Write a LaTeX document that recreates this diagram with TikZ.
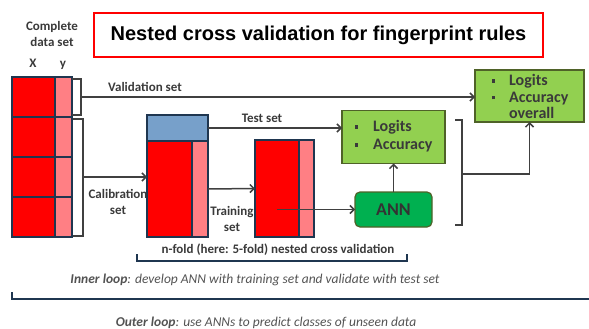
\documentclass[tikz,border=0pt]{standalone}
\usepackage{fontspec}
\setmainfont{Carlito}
\newfontfamily\arialfont{Liberation Sans}
\usetikzlibrary{arrows.meta}

\definecolor{cellred}{HTML}{FF0000}
\definecolor{cellpink}{HTML}{FF7F84}
\definecolor{testblue}{HTML}{77A0CA}
\definecolor{framecol}{HTML}{1F3650}
\definecolor{linegray}{HTML}{404040}
\definecolor{txtgray}{HTML}{3A3A3A}
\definecolor{resgreen}{HTML}{92D050}
\definecolor{anngreen}{HTML}{00B050}
\definecolor{olive}{HTML}{4F6228}

\newcommand\sqbullet{\rule[3pt]{3.5pt}{3.5pt}}

\begin{document}
\begin{tikzpicture}[
   x = 1pt, y = -1pt,
   every node/.style = {inner sep=0pt, outer sep=0pt, text=txtgray,
      font=\bfseries\fontsize{13}{16}\selectfont},
   xcell/.style = {draw=framecol, fill=cellred, line width=1.2pt, anchor=north west},
   ycell/.style = {xcell, fill=cellpink},
   result/.style = {draw=olive, fill=resgreen, line width=1.2pt,
      font=\bfseries\fontsize{16}{18}\selectfont},
   conn/.style = {draw=linegray, line width=1.5pt},
   arr/.style = {conn, -{Straight Barb[length=4pt, width=8pt]}},
   brace/.style = {draw=framecol, line width=1.2pt},
   loop/.style = {font=\itshape\fontsize{13.5}{16}\selectfont, text=linegray!90},
]
   \useasboundingbox (0,0) rectangle (589,329);
   % title
   \node [draw=red, line width=2.5pt, minimum width=449pt, minimum height=44pt,
      text=black, font=\arialfont\bfseries\fontsize{20}{24}\selectfont]
      (title) at (318.5,35) {Nested cross validation for fingerprint rules};
   % complete data set
   \node [align=center] (complete) at (52,34) {Complete\\data set};
   \node [anchor=base] (xlbl) at (33,67) {X};
   \node [anchor=base] (ylbl) at (63,67) {y};
   \foreach \i in {0,...,3} {
      \node [xcell, minimum width=43pt, minimum height=40pt] (x\i) at (12,77+40*\i) {};
      \node [ycell, minimum width=17pt, minimum height=40pt] (y\i) at (55,77+40*\i) {};
   }
   % calibration set, split into test and training part
   \node [xcell, fill=testblue, minimum width=61pt, minimum height=26pt] (test) at (147,115) {};
   \node [xcell, minimum width=45pt, minimum height=96pt] (calx) at (147,141) {};
   \node [ycell, minimum width=16pt, minimum height=96pt] (caly) at (192,141) {};
   \node [xcell, minimum width=44pt, minimum height=97pt] (trainx) at (255,140) {};
   \node [ycell, minimum width=15pt, minimum height=97pt] (trainy) at (299,140) {};
   % results and network
   \node [result, minimum width=103pt, minimum height=53pt] (acc) at (393.5,137)
      {\begin{tabular}{@{}l@{\hspace{15pt}}l@{}}
         \sqbullet & Logits\\ \sqbullet & Accuracy
      \end{tabular}};
   \node [result, minimum width=109pt, minimum height=52pt] (overall) at (529.5,96) {};
   \node [font=\bfseries\fontsize{16}{16.5}\selectfont] (overalltxt) at (530,99)
      {\begin{tabular}{@{}l@{\hspace{14pt}}l@{}}
         \sqbullet & Logits\\ \sqbullet & Accuracy\\ & overall
      \end{tabular}};
   \node [draw=olive, fill=anngreen, line width=1.2pt, rounded corners=5pt,
      minimum width=77pt, minimum height=35pt, text=black!80,
      font=\bfseries\fontsize{18}{20}\selectfont] (ann) at (393.5,209.5) {ANN};
   % labels
   \node (vallbl) at (145,87) {Validation set};
   \node [align=center] (callbl) at (118,201.5) {Calibration\\set};
   \node (testlbl) at (262,118) {Test set};
   \node [align=center] (trainlbl) at (232,218.5) {Training\\set};
   % validation and calibration brackets
   \draw [conn] (72,79) -- (81,79) -- (81,115) -- (72,115);
   \coordinate (vb) at (81,97);
   \draw [arr] (vb) -- (vb -| overall.west);
   \draw [conn] (73,119) -- (83,119) -- (83,236) -- (73,236);
   \coordinate (cb) at (83,177);
   \draw [arr] (cb) -- (cb -| test.west);
   % inner loop connections
   \draw [arr] (test.east) -- (test.east -| acc.west);
   \draw [arr] (caly.east) -- (trainx.west);
   \draw [arr] (trainx.center |- ann.west) -- (ann.west);
   \draw [arr] (ann.north) -- (acc.south);
   \draw [conn] (455,120) -- (462,120) -- (462,225) -- (455,225);
   \coordinate (rb) at (462,174);
   \draw [arr] (rb) -| (overall.south);
   % loops
   \draw [brace] (137,254) -- (137,261) -- (407,261) -- (407,254);
   \node (nfold) at (278,250) {n-fold (here: 5-fold) nested cross validation};
   \node [loop] (inner) at (255,280)
      {\textbf{Inner loop}: develop ANN with training set and validate with test set};
   \draw [brace] (12,292) -- (12,299) -- (589,299);
   \node [loop] (outer) at (266,323)
      {\textbf{Outer loop}: use ANNs to predict classes of unseen data};
\end{tikzpicture}
\end{document}
